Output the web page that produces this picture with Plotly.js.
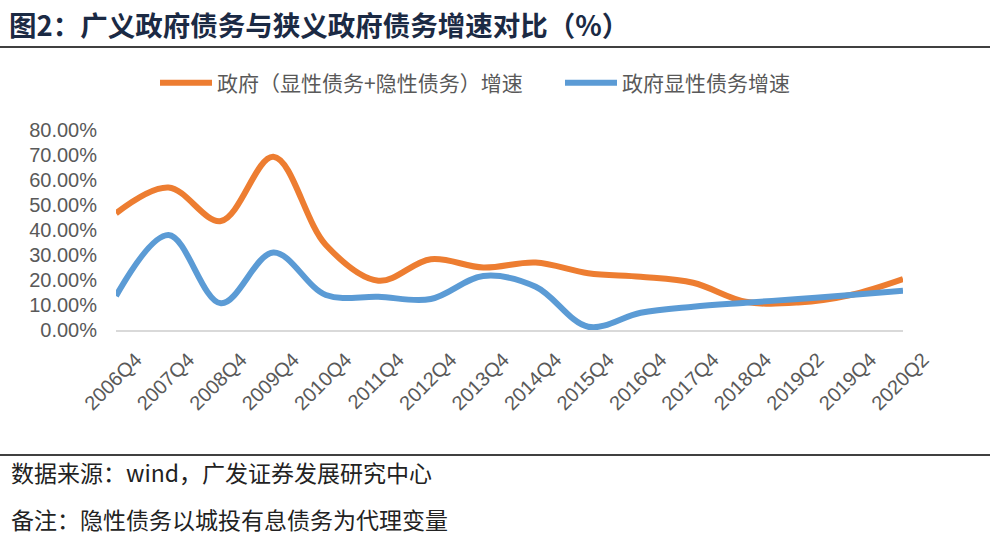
<!DOCTYPE html>
<html>
<head>
<meta charset="utf-8">
<script src="https://cdn.plot.ly/plotly-3.0.1.min.js"></script>
<style>html,body{margin:0;padding:0;background:#fff;}#chart{width:1004px;height:539px;}</style>
</head>
<body>
<div id="chart"></div>
<script>
const categories = ["2006Q4","2007Q4","2008Q4","2009Q4","2010Q4","2011Q4","2012Q4","2013Q4","2014Q4","2015Q4","2016Q4","2017Q4","2018Q4","2019Q2","2019Q4","2020Q2"];
const broadGrowth = [0.467,0.570,0.436,0.693,0.340,0.197,0.283,0.250,0.270,0.227,0.213,0.189,0.113,0.110,0.140,0.204];
const explicitGrowth = [0.136,0.380,0.107,0.310,0.140,0.133,0.124,0.216,0.173,0.013,0.069,0.093,0.109,0.124,0.140,0.157];
const seriesNames = ["政府（显性债务+隐性债务）增速","政府显性债务增速"];
const titleText = "图2：广义政府债务与狭义政府债务增速对比（%）";
const sourceText = "数据来源：wind，广发证券发展研究中心";
const noteText = "备注：隐性债务以城投有息债务为代理变量";

const W = 1004, H = 539;
const M = {l:116, r:101, t:130, b:209};
const pw = W - M.l - M.r, ph = H - M.t - M.b;
const px = x => (x - M.l) / pw;
const py = y => (H - M.b - y) / ph;

const cjk = '"Noto Sans CJK SC", "Noto Sans", sans-serif';
const latin = 'Arial, "Liberation Sans", sans-serif';

const traces = [
  {x: categories, y: broadGrowth, name: seriesNames[0], type: 'scatter', mode: 'lines', legend: 'legend',
   line: {color: '#ED7D31', width: 6, shape: 'spline', smoothing: 1}},
  {x: categories, y: explicitGrowth, name: seriesNames[1], type: 'scatter', mode: 'lines', legend: 'legend2',
   line: {color: '#5B9BD5', width: 6, shape: 'spline', smoothing: 1}}
];

const legendFont = {family: cjk, size: 21, color: '#595959'};
const layout = {
  width: W, height: H,
  margin: M,
  paper_bgcolor: '#fff', plot_bgcolor: '#fff',
  showlegend: true,
  legend: {orientation: 'h', x: px(155), xanchor: 'left', y: py(83), yanchor: 'middle',
           font: legendFont, itemwidth: 52, bgcolor: 'rgba(0,0,0,0)'},
  legend2: {orientation: 'h', x: px(560), xanchor: 'left', y: py(83), yanchor: 'middle',
           font: legendFont, itemwidth: 52, bgcolor: 'rgba(0,0,0,0)'},
  xaxis: {type: 'category', showgrid: false, zeroline: false, showline: true, linecolor: '#D9D9D9', linewidth: 2,
          ticks: '', tickangle: -45, ticklabelshift: 20, ticklabelstandoff: 8,
          tickfont: {family: latin, size: 20, color: '#595959'}, fixedrange: true},
  yaxis: {range: [0, 0.8], dtick: 0.1, tickformat: '.2%', showgrid: false, zeroline: false, showline: false,
          ticks: '', ticklen: 0, ticklabelstandoff: 18, tickfont: {family: latin, size: 20, color: '#595959'}, fixedrange: true},
  annotations: [
    {text: '<b>' + titleText + '</b>', xref: 'paper', yref: 'paper', x: px(7), y: py(24), xanchor: 'left', yanchor: 'middle',
     showarrow: false, font: {family: cjk, size: 27.5, color: '#1B2A44'}},
    {text: sourceText, xref: 'paper', yref: 'paper', x: px(9), y: py(472), xanchor: 'left', yanchor: 'middle',
     showarrow: false, font: {family: cjk, size: 23, color: '#222'}},
    {text: noteText, xref: 'paper', yref: 'paper', x: px(9), y: py(519), xanchor: 'left', yanchor: 'middle',
     showarrow: false, font: {family: cjk, size: 23, color: '#222'}}
  ],
  shapes: [
    {type: 'line', xref: 'paper', yref: 'paper', x0: px(0), x1: px(990), y0: py(47), y1: py(47), line: {color: '#000', width: 1.5}},
    {type: 'line', xref: 'paper', yref: 'paper', x0: px(0), x1: px(990), y0: py(455), y1: py(455), line: {color: '#000', width: 1.5}}
  ]
};

Plotly.newPlot('chart', traces, layout, {displayModeBar: false, staticPlot: true});
</script>
</body>
</html>
